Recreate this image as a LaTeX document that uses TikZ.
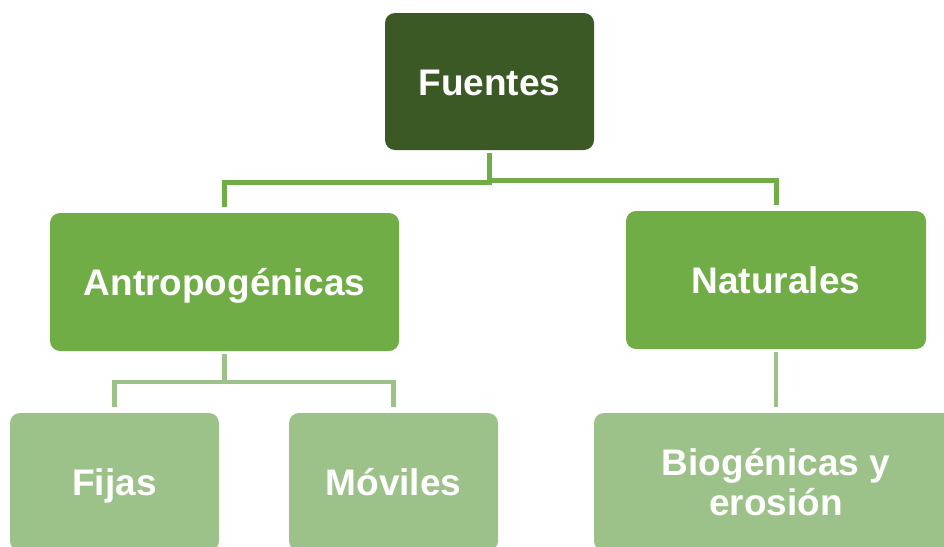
\documentclass[tikz,border=0pt]{standalone}
\usepackage{fontspec}
\setmainfont{Liberation Sans}
\definecolor{darkg}{RGB}{59,89,36}
\definecolor{midg}{RGB}{112,173,71}
\definecolor{lightg}{RGB}{157,194,137}
\tikzset{
  box/.style={rounded corners=10pt, inner sep=0pt, text=white, align=center,
    font=\fontsize{37}{40}\selectfont\bfseries},
  oneline/.style={text height=27pt, text depth=0pt},
  lvlone/.style={box, oneline, fill=darkg},
  lvltwo/.style={box, oneline, fill=midg},
  lvlthree/.style={box, fill=lightg},
  conn/.style={line width=5pt, shorten <=3pt, shorten >=6pt},
}
\begin{document}
\begin{tikzpicture}[x=1pt,y=-1pt]
\useasboundingbox (0,0) rectangle (944,546);
\clip (0,0) rectangle (944,546);
\node[lvlone, minimum width=209pt, minimum height=137pt] (F) at (489.5,81.5) {Fuentes};
\node[lvltwo, minimum width=349pt, minimum height=138pt] (A) at (224.5,282) {Antropogénicas};
\node[lvltwo, minimum width=300pt, minimum height=138pt] (N) at (776,280) {Naturales};
\node[lvlthree, oneline, minimum width=209pt, minimum height=138pt] (Fi) at (114.5,482) {Fijas};
\node[lvlthree, oneline, minimum width=209pt, minimum height=138pt] (M) at (393.5,482) {Móviles};
\node[lvlthree, minimum width=364pt, minimum height=138pt] (B) at (776,482) {Biogénicas y\\erosión};
\draw[conn, midg] (F.south) -- ++(0,32) -| (A.north);
\draw[conn, midg] (F.south) -- ++(0,30) -| (N.north);
\draw[conn, lightg, line width=4.5pt] (A.south) -- ++(0,31) -| (Fi.north);
\draw[conn, lightg, line width=4.5pt] (A.south) -- ++(0,31) -| (M.north);
\draw[conn, lightg, line width=4.5pt] (N.south) -- (B.north);
\end{tikzpicture}
\end{document}
